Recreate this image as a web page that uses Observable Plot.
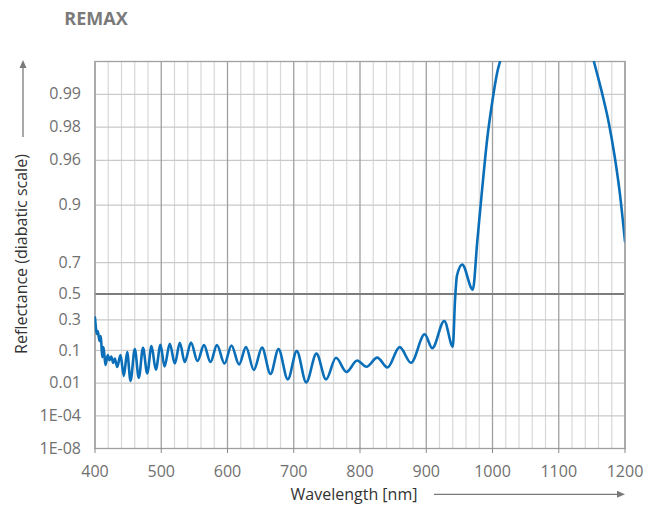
<!DOCTYPE html>
<html><head><meta charset="utf-8">
<script src="https://cdn.jsdelivr.net/npm/d3@7"></script>
<script src="https://cdn.jsdelivr.net/npm/@observablehq/plot@0.6"></script>
<style>
html,body{margin:0;padding:0;background:#fff;}
#chart{position:relative;width:660px;height:506px;}
</style></head><body><div id="chart"></div>
<script>
const title = "REMAX";
const xLabel = "Wavelength [nm]";
const yLabel = "Reflectance (diabatic scale)";
const xTicks = [400, 500, 600, 700, 800, 900, 1000, 1100, 1200];
const yTickValues = [1e-8, 1e-4, 0.01, 0.1, 0.3, 0.5, 0.7, 0.9, 0.96, 0.98, 0.99];
const yTickLabels = ["1E-08", "1E-04", "0.01", "0.1", "0.3", "0.5", "0.7", "0.9", "0.96", "0.98", "0.99"];
const yBottom = 1e-8;
const yTop = 0.995;

const wavelength = [400, 403.0, 404.2, 406.8, 408.8, 410.9, 412.8, 415.8, 419.3, 421.9, 424.5, 427.5, 429.9, 433.5,
  438.5, 443.5, 448.6, 453.6, 460.1, 466.1, 472.5, 478.8, 485.3, 491.8, 498.9, 504.9, 512.9, 520.5, 528.0, 535.5,
  544.9, 554.7, 564.5, 574.3, 584.1, 595.5, 606.0, 617.4, 627.9, 639.7, 652.1, 664.9, 677.0, 691.0, 704.6, 718.8,
  734.3, 748.7, 763.8, 779.6, 795.8, 809.8, 826.0, 841.5, 859.9, 877.0, 897.7, 909.0, 927.2, 940.1, 943.4, 946.4,
  954.3, 970.3, 976.9, 984.4, 992.0, 999.5, 1007.1, 1011.3, 1018.1, 1040, 1080, 1120, 1147.2, 1153.1, 1165.3,
  1175.5, 1184.2, 1192.1, 1200];
const reflectance = [0.318, 0.197, 0.218, 0.152, 0.183, 0.0706, 0.117, 0.0435, 0.0787, 0.0594, 0.0725, 0.0495, 0.0649, 0.0380,
  0.0787, 0.0193, 0.0920, 0.0124, 0.1066, 0.0163, 0.1133, 0.0236, 0.1225, 0.0314, 0.1297, 0.0393, 0.1353, 0.0479, 0.1413, 0.0527,
  0.1425, 0.0560, 0.128, 0.0527, 0.128, 0.0479, 0.1263, 0.0452, 0.117, 0.0307, 0.1143, 0.0226, 0.1066, 0.0143, 0.0966, 0.0108,
  0.0852, 0.0143, 0.0679, 0.0265, 0.0577, 0.0385, 0.0686, 0.0367, 0.117, 0.0504, 0.195, 0.1117, 0.292, 0.1197, 0.450, 0.625,
  0.689, 0.531, 0.7929, 0.9279, 0.9744, 0.9881, 0.9937, 0.9950, 0.9967, 0.998, 0.9985, 0.998, 0.9964, 0.9950, 0.9903,
  0.9818, 0.9638, 0.9223, 0.796];

// diabatic (double-log) scale transform
const diab = r => -Math.log10(-Math.log(r));
const data = wavelength.map((w, i) => ({w, r: reflectance[i]}));
const yT = yTickValues.map(diab);
const labelOf = new Map(yT.map((v, i) => [v, yTickLabels[i]]));
const minorX = d3.range(xTicks[0], xTicks[xTicks.length - 1] + 1, 20).filter(v => v % 100 !== 0);

const plot = Plot.plot({
  width: 660, height: 506,
  marginTop: 61, marginBottom: 58, marginLeft: 94.5, marginRight: 35.5,
  style: {fontFamily: "'Open Sans', sans-serif", fontSize: "16px", color: "#707070", background: "#fff"},
  x: {domain: [400, 1200]},
  y: {domain: [diab(yBottom), diab(yTop)]},
  marks: [
    Plot.ruleX(minorX, {stroke: "#d8d8d8", strokeWidth: 1.2}),
    Plot.ruleY(yT.filter((v, i) => yTickValues[i] !== 0.5), {stroke: "#c9c9c9", strokeWidth: 1.2}),
    Plot.ruleX(xTicks, {stroke: "#a0a0a0", strokeWidth: 1.3}),
    Plot.ruleY([diab(0.5)], {stroke: "#7c7c7c", strokeWidth: 2}),
    Plot.frame({stroke: "#a0a0a0", strokeWidth: 1.3}),
    Plot.axisX({ticks: xTicks, tickSize: 5, tickPadding: 12, label: null, stroke: "#8a8a8a", tickFormat: d => String(d)}),
    Plot.axisY({ticks: yT, tickSize: 0, tickPadding: 14, label: null, tickFormat: v => labelOf.get(v)}),
    Plot.line(data, {x: "w", y: d => diab(d.r), curve: "monotone-x", stroke: "#0a6fb8", strokeWidth: 2.6, clip: true})
  ]
});
document.getElementById("chart").appendChild(plot);

const svg = d3.select(plot);
svg.append("text").attr("x", 96).attr("y", 25)
  .attr("font-family", "'Open Sans', sans-serif").attr("font-weight", 700).attr("font-size", 18)
  .attr("fill", "#7a7a7a").text(title);
svg.append("text").attr("transform", "translate(27,254) rotate(-90)").attr("text-anchor", "middle")
  .attr("font-family", "'Open Sans', sans-serif").attr("font-size", 16).attr("fill", "#333").text(yLabel);
svg.append("text").attr("x", 354).attr("y", 499.5).attr("text-anchor", "middle")
  .attr("font-family", "'Open Sans', sans-serif").attr("font-size", 16).attr("fill", "#333").text(xLabel);
const arrowColor = "#7a7a7a";
svg.append("line").attr("x1", 23).attr("y1", 137).attr("x2", 23).attr("y2", 66).attr("stroke", arrowColor).attr("stroke-width", 1.3);
svg.append("path").attr("d", "M23,60 L19.5,68 L26.5,68 Z").attr("fill", arrowColor);
svg.append("line").attr("x1", 434).attr("y1", 494.3).attr("x2", 618).attr("y2", 494.3).attr("stroke", arrowColor).attr("stroke-width", 1.3);
svg.append("path").attr("d", "M625,494.3 L617,490.8 L617,497.8 Z").attr("fill", arrowColor);
</script></body></html>
